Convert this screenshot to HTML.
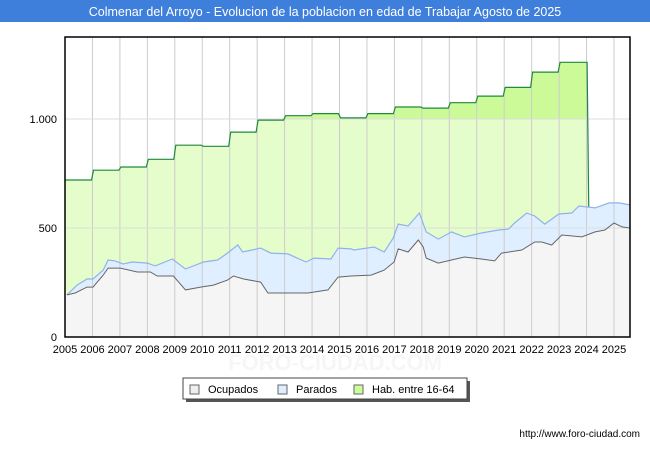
<!DOCTYPE html>
<html><head><meta charset="utf-8"><style>
body{margin:0;background:#fff;font-family:"Liberation Sans",sans-serif}
svg{display:block}
</style></head><body>
<svg width="650" height="450" xmlns="http://www.w3.org/2000/svg">
<rect x="0" y="0" width="650" height="22" fill="#3f7fdc"/>
<text x="325" y="16" text-anchor="middle" font-size="12.5" fill="#fff">Colmenar del Arroyo - Evolucion de la poblacion en edad de Trabajar Agosto de 2025</text>
<text x="335" y="370" text-anchor="middle" font-size="22" font-weight="bold" fill="#f6f6f6">FORO-CIUDAD.COM</text>
<g id="plot"></g>
<g>
<rect x="186" y="381" width="284" height="21" fill="#555"/>
<rect x="183" y="378" width="284" height="21" fill="#fff" stroke="#444"/>
<rect x="190" y="385" width="9" height="9" fill="#eee" stroke="#666"/>
<text x="208" y="393" font-size="11" fill="#000">Ocupados</text>
<rect x="278" y="385" width="9" height="9" fill="#dfeeff" stroke="#666"/>
<text x="296" y="393" font-size="11" fill="#000">Parados</text>
<rect x="354" y="385" width="9" height="9" fill="#ccff99" stroke="#666"/>
<text x="372" y="393" font-size="11" fill="#000">Hab. entre 16-64</text>
</g>
<text x="640" y="437" text-anchor="end" font-size="10" fill="#000">http://www.foro-ciudad.com</text>
</svg>
<script>
const years=[2005,2006,2007,2008,2009,2010,2011,2012,2013,2014,2015,2016,2017,2018,2019,2020,2021,2022,2023];
const habVals=[720,765,780,815,880,875,940,995,1015,1025,1005,1025,1055,1050,1075,1105,1145,1215,1260];
const ocDates=[2005.07,2005.37,2005.8,2006.02,2006.39,2006.57,2007.01,2007.63,2008.11,2008.36,2008.95,2009.39,2009.94,2010.41,2010.92,2011.14,2011.51,2012.13,2012.39,2013.12,2013.85,2014.58,2014.95,2015.42,2016.15,2016.63,2016.99,2017.14,2017.5,2017.87,2018.05,2018.16,2018.6,2019.08,2019.55,2020.17,2020.65,2020.9,2021.64,2022.11,2022.37,2022.73,2023.1,2023.83,2024.31,2024.67,2025,2025.29,2025.66];
const ocVals=[193,202,229,229,284,316,316,298,298,280,280,216,229,238,261,280,266,252,202,202,202,216,275,280,284,307,344,404,390,445,413,362,339,353,367,358,349,385,399,436,436,422,468,459,482,491,523,505,500];
const totDates=[2005.07,2005.44,2005.8,2006.02,2006.39,2006.57,2006.83,2007.12,2007.45,2008,2008.29,2008.91,2009.39,2010.05,2010.56,2010.92,2011.29,2011.47,2012.13,2012.5,2013.12,2013.78,2014.07,2014.69,2014.95,2015.42,2015.53,2016.26,2016.63,2016.96,2017.14,2017.5,2017.91,2018.16,2018.6,2019.08,2019.55,2020.17,2020.8,2021.16,2021.38,2021.82,2022.11,2022.48,2022.99,2023.46,2023.72,2024.31,2024.82,2025.18,2025.66];
const totVals=[193,238,266,266,307,353,349,335,344,339,326,358,312,344,353,385,422,390,408,385,381,344,362,358,408,404,399,413,390,454,518,509,569,482,449,482,459,477,491,495,523,569,555,518,564,569,601,592,615,615,606];
const yTicks=[0,500,1000];const yTickLabels=["0","500","1.000"];
const L=65,R=630,T=37,B=337;
const X=d=>L+(d-2005)*27.45;
const Y=v=>B-v*(109/500);
const NS="http://www.w3.org/2000/svg";
const g=document.getElementById('plot');
function el(t,a){const e=document.createElementNS(NS,t);for(const k in a)e.setAttribute(k,a[k]);g.appendChild(e);return e;}
el('rect',{x:L,y:T,width:R-L,height:B-T,fill:'#fff'});
function interp(ds,vs,d){if(d<=ds[0])return vs[0];for(let i=1;i<ds.length;i++){if(d<=ds[i]){const t=(d-ds[i-1])/(ds[i]-ds[i-1]);return vs[i-1]+t*(vs[i]-vs[i-1]);}}return vs[vs.length-1];}
let hp=[];
years.forEach((y,i)=>{const x0=X(y)+(i?1:0),x1=X(y+1)-1;hp.push([i?x0:L,Y(habVals[i])],[x1,Y(habVals[i])]);});
const endD=2024.02;
hp[hp.length-1][0]=X(endD);
const totEnd=interp(totDates,totVals,endD+0.06);
let habD='M'+hp.map(p=>p[0].toFixed(1)+','+p[1].toFixed(1)).join(' L')+` L${X(endD+0.06)},${Y(totEnd)} L${X(endD+0.06)},${B} L${L},${B} Z`;
const clip=el('clipPath',{id:'c1'});const cr=document.createElementNS(NS,'rect');cr.setAttribute('x',L);cr.setAttribute('y',T);cr.setAttribute('width',R-L);cr.setAttribute('height',Y(1000)-T);clip.appendChild(cr);
const hab1=el('path',{d:habD,fill:'#e5fccb'});


const hab2=el('path',{d:habD,fill:'#ccfa99','clip-path':'url(#c1)'});


const line=(ds,vs)=>ds.map((d,i)=>(i?'L':'M')+Math.min(X(d),R).toFixed(1)+','+Y(vs[i]).toFixed(1)).join(' ');
const totL=line(totDates,totVals);
const tA=el('path',{d:`M${L},${B} L${L},${Y(totVals[0])} L`+totL.slice(1)+` L${R},${B} Z`,fill:'#e0efff'});


const ocL=line(ocDates,ocVals);
const oA=el('path',{d:`M${L},${B} L${L},${Y(ocVals[0])} L`+ocL.slice(1)+` L${R},${B} Z`,fill:'#f5f5f5'});


for(let y=2005;y<=2025;y++){const gl=el('line',{x1:X(y),x2:X(y),y1:T,y2:B,stroke:'#ccc'});
const t=el('text',{x:X(y),y:B+16,'text-anchor':'middle','font-size':'11',fill:'#000'});t.textContent=y;}
yTicks.forEach((v,i)=>{const gl=el('line',{x1:L,x2:R,y1:Y(v),y2:Y(v),stroke:'#ddd'});
const t=el('text',{x:L-8,y:Y(v)+4,'text-anchor':'end','font-size':'11',fill:'#000'});t.textContent=yTickLabels[i];});
const hl=el('path',{d:'M'+hp.map(p=>p[0].toFixed(1)+','+p[1].toFixed(1)).join(' L')+` L${X(endD+0.06)},${Y(totEnd)}`,fill:'none',stroke:'#1f8a3a','stroke-width':'1.2'});


const tl=el('path',{d:totL,fill:'none',stroke:'#8eb3ea','stroke-width':'1.2'});


const ol=el('path',{d:ocL,fill:'none',stroke:'#666','stroke-width':'1'});


const fr=el('rect',{x:L,y:T,width:R-L,height:B-T,fill:'none',stroke:'#000','stroke-width':'1.5'});


</script>
</body></html>
